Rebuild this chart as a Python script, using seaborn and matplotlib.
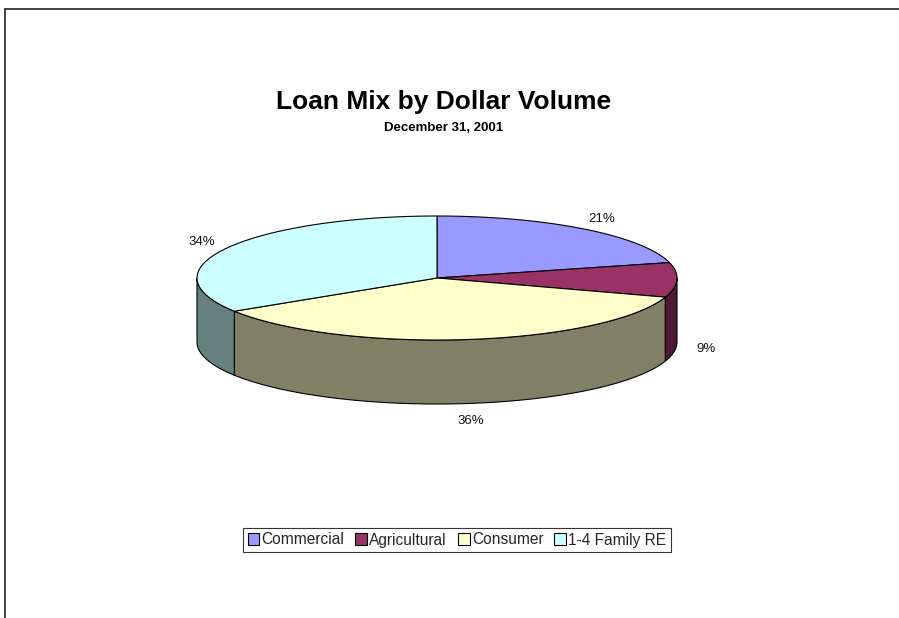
import numpy as np
import matplotlib
matplotlib.use('Agg')
import matplotlib.pyplot as plt
import seaborn as sns
from matplotlib.patches import Polygon, Patch
from matplotlib.colors import to_rgb

# Données
categories = ['Commercial', 'Agricultural', 'Consumer', '1-4 Family RE']
parts = [21, 9, 36, 34]
couleurs = ['#9999FF', '#993366', '#FFFFCC', '#CCFFFF']

sns.set_theme(style='white')
plt.rcParams['font.family'] = ['Liberation Sans', 'DejaVu Sans']

fig = plt.figure(figsize=(8.99, 6.18), dpi=100)
ax = fig.add_axes([0, 0, 1, 1])
ax.set_xlim(0, 899)
ax.set_ylim(618, 0)
ax.axis('off')

# cadre (haut et gauche)
ax.plot([5, 899], [9, 9], color='#222222', lw=1.2)
ax.plot([5, 5], [9, 618], color='#222222', lw=1.2)

# géométrie du camembert 3D
cx, cy = 437, 278
a, b = 240, 62
prof = 64


def pt(t):
    r = np.radians(t)
    return cx + a * np.cos(r), cy - b * np.sin(r)


total = sum(parts)
debut = 90.0
angles = []
for p in parts:
    t1 = debut
    t2 = debut - p / total * 360
    angles.append((t1, t2))
    debut = t2

# côtés (partie avant uniquement)
for (t1, t2), c in zip(angles, couleurs):
    lo, hi = max(t2, -180), min(t1, 0)
    if lo >= hi:
        continue
    ts = np.linspace(hi, lo, 80)
    xs, ys = pt(ts)
    verts = list(zip(xs, ys)) + list(zip(xs[::-1], ys[::-1] + prof))
    sombre = tuple(v * 0.5 for v in to_rgb(c))
    ax.add_patch(Polygon(verts, closed=True, facecolor=sombre, edgecolor='black', lw=0.8))

# dessus
for (t1, t2), c in zip(angles, couleurs):
    ts = np.linspace(t1, t2, 200)
    xs, ys = pt(ts)
    verts = [(cx, cy)] + list(zip(xs, ys))
    ax.add_patch(Polygon(verts, closed=True, facecolor=c, edgecolor='black', lw=0.8))

# étiquettes
for (t1, t2), p in zip(angles, parts):
    m = np.radians((t1 + t2) / 2)
    x = cx + 1.12 * a * np.cos(m)
    y = cy - 1.2 * b * np.sin(m)
    if np.sin(m) < 0:
        y += prof + 5
    ax.text(x, y, f'{p}%', ha='center', va='center', fontsize=9.5, color='#111111')

# titres
ax.text(444, 102, 'Loan Mix by Dollar Volume', ha='center', va='center',
        fontsize=19, fontweight='bold', color='black')
ax.text(444, 128, 'December 31, 2001', ha='center', va='center',
        fontsize=9.5, fontweight='bold', color='black')

# légende
handles = [Patch(facecolor=c, edgecolor='black', lw=0.8) for c in couleurs]
leg = ax.legend(handles, categories, loc='center', bbox_to_anchor=(457 / 899, 1 - 540 / 618),
                ncol=4, fontsize=11.2, frameon=True, fancybox=False, edgecolor='black',
                handlelength=0.75, handleheight=0.75, handletextpad=0.15, columnspacing=0.7,
                borderpad=0.3, borderaxespad=0)
leg.get_frame().set_linewidth(0.8)

fig.savefig('out.png', dpi=100, facecolor='white')
